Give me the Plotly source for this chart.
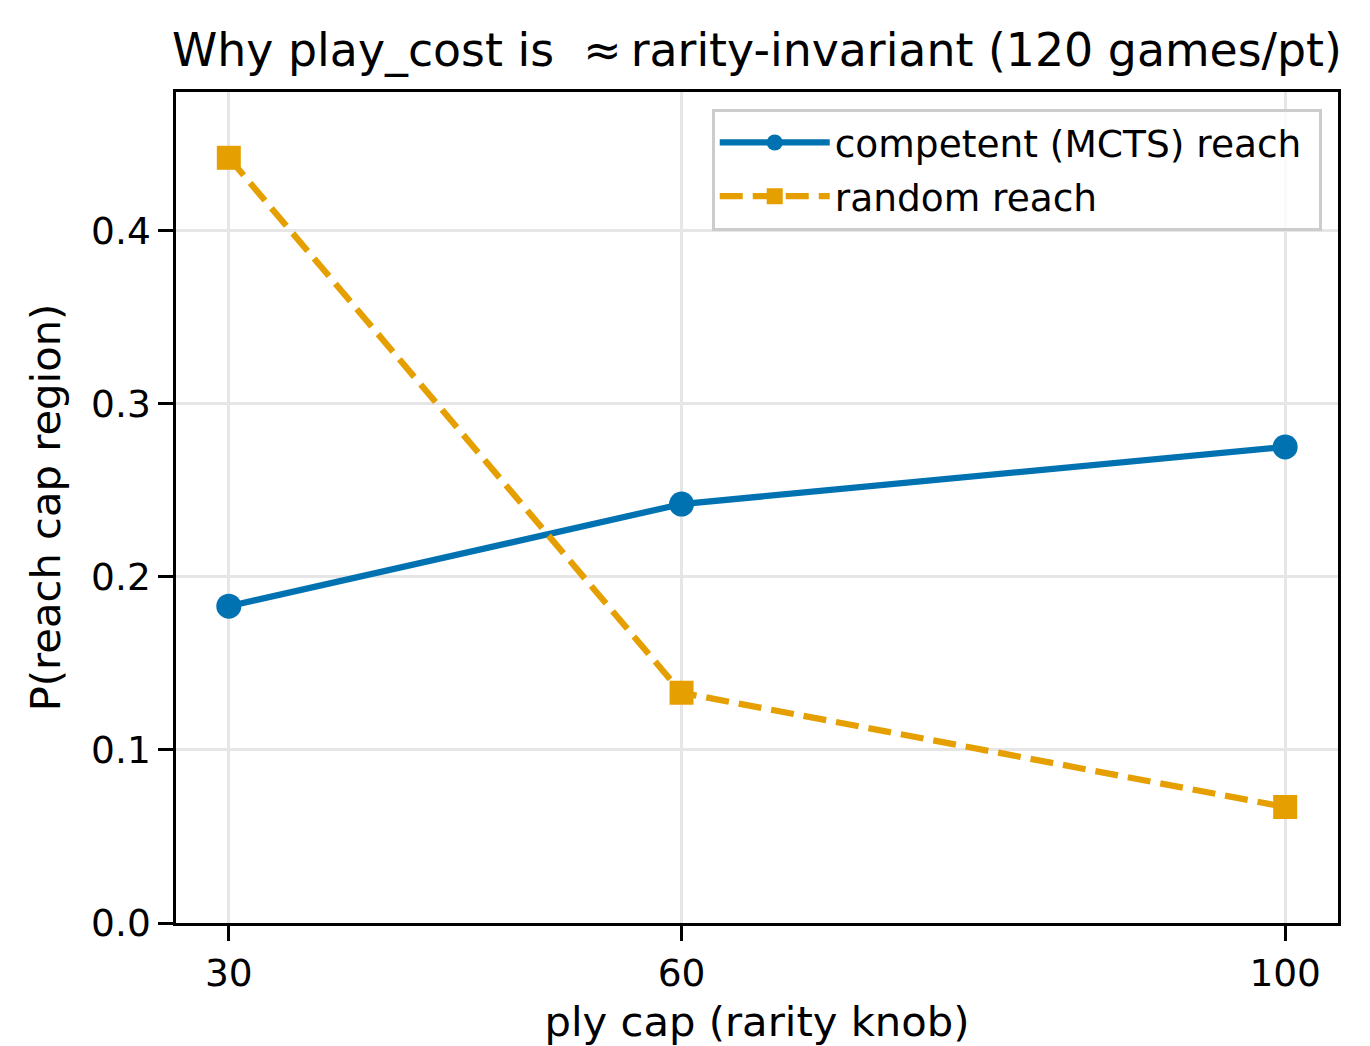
import plotly.graph_objects as go

ply_cap = [30, 60, 100]
competent_reach = [0.183, 0.242, 0.275]
random_reach = [0.442, 0.133, 0.067]
x_ticks = [30, 60, 100]
y_ticks = [0.0, 0.1, 0.2, 0.3, 0.4]

FONT = "DejaVu Sans"
FS_LABEL = 41.7
FS_TICK = 37.5

fig = go.Figure()
fig.add_trace(go.Scatter(
    x=ply_cap, y=competent_reach, mode="lines+markers",
    name="competent (MCTS) reach\u00a0", legendgroup="a",
    line=dict(color="#0072B2", width=6.25),
    marker=dict(symbol="circle", size=25, color="#0072B2"),
))
fig.add_trace(go.Scatter(
    x=ply_cap, y=random_reach, mode="lines+markers",
    name="random reach", legendgroup="b",
    line=dict(color="#E69F00", width=6.25, dash="23px,10px"),
    marker=dict(symbol="square", size=24, color="#E69F00"),
))

axis_common = dict(
    showline=True, linecolor="black", linewidth=3.3, mirror=True,
    ticks="outside", ticklen=14.6, tickwidth=3.3, tickcolor="black",
    showgrid=True, gridcolor="#e6e6e6", gridwidth=3,
    zeroline=False,
    tickfont=dict(family=FONT, size=FS_TICK, color="black"),
)

fig.update_layout(
    width=1370, height=1046,
    margin=dict(l=176, r=32, t=92, b=123, autoexpand=False),
    paper_bgcolor="white", plot_bgcolor="white",
    font=dict(family=FONT, size=FS_TICK, color="black"),
    title=dict(
        text="Why play_cost is \u00a0≈\u202frarity-invariant (120 games/pt)",
        x=0.5, xref="paper", xanchor="center",
        y=1 - 50 / 1046, yref="container", yanchor="middle",
        font=dict(family=FONT, size=45.8, color="black"),
    ),
    xaxis=dict(
        range=[26.5, 103.5], tickvals=x_ticks, ticktext=[str(v) for v in x_ticks],
        title=dict(text="ply cap (rarity knob)", font=dict(family=FONT, size=FS_LABEL), standoff=16),
        **axis_common,
    ),
    yaxis=dict(
        range=[0, 0.48], tickvals=y_ticks, ticktext=[f"{v:.1f}" for v in y_ticks],
        title=dict(text="P(reach cap region)", font=dict(family=FONT, size=FS_LABEL), standoff=18),
        **axis_common,
    ),
    legend=dict(
        x=0.986, y=0.98, xanchor="right", yanchor="top",
        bgcolor="rgba(255,255,255,0.8)", bordercolor="#cccccc", borderwidth=3,
        font=dict(family=FONT, size=FS_TICK, color="black"),
        itemwidth=110, traceorder="grouped", tracegroupgap=2,
    ),
    showlegend=True,
)

fig.write_html("out.html")
